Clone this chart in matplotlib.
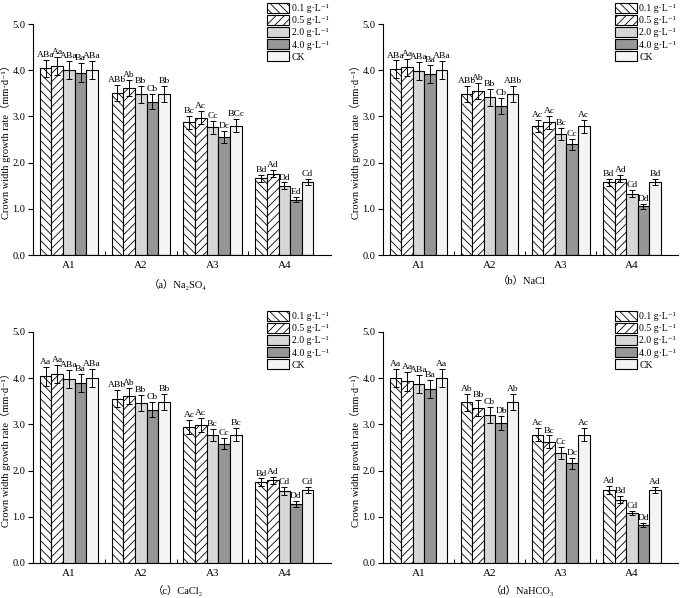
import numpy as np
import matplotlib
matplotlib.use("Agg")
import matplotlib.pyplot as plt
from matplotlib.ticker import FixedLocator

plt.rcParams['font.family'] = ['Liberation Serif', 'DejaVu Serif', 'Noto Sans CJK SC']
plt.rcParams['hatch.linewidth'] = 0.6

# groups and treatments
groups = ['A1', 'A2', 'A3', 'A4']
levels = ['0.1 g·L⁻¹', '0.5 g·L⁻¹', '2.0 g·L⁻¹', '4.0 g·L⁻¹', 'CK']
titles = ['（a）Na₂SO₄', '（b）NaCl', '（c）CaCl₂', '（d）NaHCO₃']

# values[group][level]
na2so4 = [[4.04, 4.09, 4.00, 3.95, 4.00],
          [3.51, 3.61, 3.48, 3.32, 3.48],
          [2.87, 2.97, 2.76, 2.55, 2.80],
          [1.66, 1.76, 1.50, 1.20, 1.58]]
nacl = [[4.02, 4.06, 3.98, 3.92, 4.00],
        [3.48, 3.55, 3.41, 3.23, 3.48],
        [2.80, 2.87, 2.61, 2.40, 2.79],
        [1.57, 1.65, 1.33, 1.05, 1.58]]
cacl2 = [[4.04, 4.09, 3.98, 3.90, 4.00],
         [3.56, 3.61, 3.46, 3.32, 3.48],
         [2.94, 2.98, 2.77, 2.58, 2.78],
         [1.75, 1.79, 1.56, 1.28, 1.58]]
nahco3 = [[4.01, 3.93, 3.87, 3.77, 4.00],
          [3.48, 3.35, 3.21, 3.03, 3.48],
          [2.78, 2.62, 2.38, 2.16, 2.78],
          [1.58, 1.37, 1.08, 0.82, 1.58]]

# standard errors
err_na2so4 = [[0.19, 0.19, 0.20, 0.20, 0.20],
              [0.18, 0.17, 0.18, 0.17, 0.17],
              [0.14, 0.14, 0.14, 0.13, 0.14],
              [0.08, 0.08, 0.07, 0.06, 0.07]]
err_nacl = [[0.19, 0.19, 0.20, 0.20, 0.19],
            [0.17, 0.17, 0.18, 0.17, 0.17],
            [0.13, 0.14, 0.13, 0.12, 0.14],
            [0.08, 0.08, 0.07, 0.05, 0.07]]
err_cacl2 = [[0.20, 0.19, 0.20, 0.20, 0.19],
             [0.18, 0.17, 0.18, 0.17, 0.17],
             [0.15, 0.15, 0.14, 0.12, 0.14],
             [0.08, 0.08, 0.08, 0.06, 0.07]]
err_nahco3 = [[0.19, 0.20, 0.20, 0.20, 0.20],
              [0.18, 0.17, 0.17, 0.16, 0.17],
              [0.14, 0.14, 0.13, 0.12, 0.14],
              [0.08, 0.08, 0.05, 0.04, 0.07]]

# significance letters
lab_na2so4 = [['ABa', 'Aa', 'ABa', 'Ba', 'ABa'],
              ['ABb', 'Ab', 'Bb', 'Cb', 'Bb'],
              ['Bc', 'Ac', 'Cc', 'Dc', 'BCc'],
              ['Bd', 'Ad', 'Dd', 'Ed', 'Cd']]
lab_nacl = [['ABa', 'Aa', 'ABa', 'Ba', 'ABa'],
            ['ABb', 'Ab', 'Bb', 'Cb', 'ABb'],
            ['Ac', 'Ac', 'Bc', 'Cc', 'Ac'],
            ['Bd', 'Ad', 'Cd', 'Dd', 'Bd']]
lab_cacl2 = [['Aa', 'Aa', 'ABa', 'Ba', 'ABa'],
             ['ABb', 'Ab', 'Bb', 'Cb', 'Bb'],
             ['Ac', 'Ac', 'Bc', 'Cc', 'Bc'],
             ['Bd', 'Ad', 'Cd', 'Dd', 'Cd']]
lab_nahco3 = [['Aa', 'Aa', 'ABa', 'Ba', 'Aa'],
              ['Ab', 'Bb', 'Cb', 'Db', 'Ab'],
              ['Ac', 'Bc', 'Cc', 'Dc', 'Ac'],
              ['Ad', 'Bd', 'Cd', 'Dd', 'Ad']]

colors = ['white', 'white', '#d6d6d6', '#969696', '#f4f4f4']
hatches = ['\\\\\\\\', '////', '', '', '']

fig = plt.figure(figsize=(6.8, 5.98), dpi=100)
W, H = 680.0, 598.0
# axes boxes in pixels: left, top, right, bottom
boxes = [(33, 24, 331, 255), (383, 24, 678, 255),
         (33, 332, 331, 563), (383, 332, 678, 563)]
title_pos = [(178, 285), (522, 281), (178, 591), (522, 591)]

datasets = [(na2so4, err_na2so4, lab_na2so4), (nacl, err_nacl, lab_nacl),
            (cacl2, err_cacl2, lab_cacl2), (nahco3, err_nahco3, lab_nahco3)]

bw = 0.162
x = np.arange(len(groups))

for k, (vals, errs, labs) in enumerate(datasets):
    l, t, r, b = boxes[k]
    ax = fig.add_axes([l / W, 1 - b / H, (r - l) / W, (b - t) / H])
    vals = np.array(vals)
    errs = np.array(errs)
    for j in range(len(levels)):
        xs = x + (j - 2) * bw
        ax.bar(xs, vals[:, j], bw, color=colors[j], edgecolor='black',
               linewidth=0.8, hatch=hatches[j], label=levels[j], zorder=2)
        ax.errorbar(xs, vals[:, j], yerr=errs[:, j], fmt='none', ecolor='black',
                    elinewidth=0.7, capsize=2.0, capthick=0.7, zorder=3)
        for i in range(len(groups)):
            ax.text(xs[i], vals[i, j] + errs[i, j] + 0.02, labs[i][j],
                    ha='center', va='bottom', fontsize=6.8)

    ax.set_xlim(-0.5, 3.65)
    ax.set_ylim(0, 5)
    ax.set_yticks(np.arange(0, 5.1, 1.0))
    ax.set_yticklabels(['%.1f' % v for v in np.arange(0, 5.1, 1.0)], fontsize=7.5)
    ax.set_xticks(x)
    ax.set_xticklabels(groups, fontsize=8)
    ax.xaxis.set_minor_locator(FixedLocator([0.5, 1.5, 2.5]))
    ax.tick_params(axis='x', which='major', length=0, pad=4)
    ax.tick_params(axis='x', which='minor', direction='in', length=3, width=0.7)
    ax.tick_params(axis='y', direction='out', length=3.5, width=0.8, pad=2)
    for s in ['top', 'right']:
        ax.spines[s].set_visible(False)
    for s in ['left', 'bottom']:
        ax.spines[s].set_linewidth(0.8)
    ax.set_ylabel('Crown width growth rate（mm·d⁻¹）', fontsize=7.5, labelpad=1)
    leg = ax.legend(loc='upper left', bbox_to_anchor=(0.785, 1.09), frameon=False,
                    fontsize=7, handlelength=2.3, handleheight=1.15,
                    labelspacing=0.2, handletextpad=0.25, borderpad=0, borderaxespad=0)
    tx, ty = title_pos[k]
    fig.text(tx / W, 1 - ty / H, titles[k], ha='center', va='center', fontsize=7.5)

plt.savefig('out.png', dpi=100)
